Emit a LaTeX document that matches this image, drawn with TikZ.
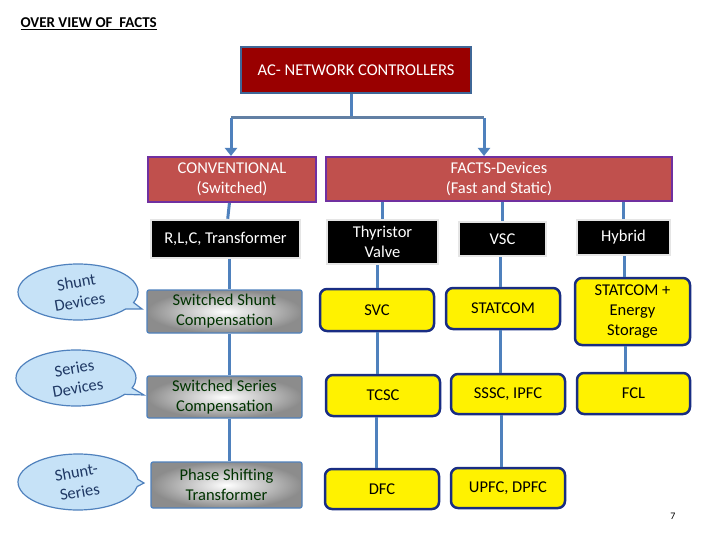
\documentclass[tikz,border=0pt]{standalone}
\usepackage{fontspec}
\setmainfont{Carlito}
\usetikzlibrary{arrows.meta,shapes.callouts}
\definecolor{lb}{HTML}{4F81BD}
\definecolor{dr}{HTML}{990000}
\definecolor{mr}{HTML}{C0504D}
\definecolor{pu}{HTML}{7030A0}
\definecolor{nv}{HTML}{1F3864}
\definecolor{cb}{HTML}{C6E2F7}
\begin{document}
\begin{tikzpicture}[x=1pt,y=-1pt,
  fs/.style={font=\fontsize{16.5}{20}\selectfont},
  red/.style={fill=mr,draw=pu,line width=2pt,text=white,fs,inner sep=1pt},
  blk/.style={fill=black,draw=black!10,line width=2.5pt,text=white,fs,inner sep=1pt},
  gry/.style={inner color=white,outer color=black!45,draw=lb,line width=1.2pt,rounded corners=2pt,fs,text=black!80!green,inner sep=1pt},
  yel/.style={fill=yellow,draw=nv!80!blue,line width=2.5pt,rounded corners=7pt,fs,inner sep=1pt},
  ln/.style={draw=lb,line width=3pt},
  cl/.style={ellipse callout,fill=cb,draw=lb,line width=1.2pt,minimum width=120pt,minimum height=56pt,inner sep=0pt},
  ct/.style={fs,text=nv,align=center,rotate=10,inner sep=0pt}]
\useasboundingbox (0,0) rectangle (720,540);
\node[anchor=west,font=\bfseries\fontsize{15}{17}\selectfont] (title) at (17,24) {\underline{OVER VIEW OF\ \ FACTS}};
\node[red,fill=dr,draw=lb!80!black,minimum width=230pt,minimum height=46pt] (ac) at (356,70) {AC- NETWORK CONTROLLERS};
\node[red,minimum width=168pt,minimum height=45pt,align=center] (conv) at (232,179.5) {CONVENTIONAL\\(Switched)};
\node[red,minimum width=346pt,minimum height=44pt,align=center] (facts) at (499,179) {FACTS-Devices\\(Fast and Static)};
\node[blk,minimum width=149pt,minimum height=38pt] (rlc) at (225.5,239) {R,L,C, Transformer};
\node[blk,minimum width=111pt,minimum height=44pt,align=center] (thy) at (382.5,242) {Thyristor\\Valve};
\node[blk,minimum width=87pt,minimum height=34pt] (vsc) at (502.5,239) {VSC};
\node[blk,minimum width=93pt,minimum height=35pt] (hyb) at (623.5,237.5) {Hybrid};
\node[gry,minimum width=155pt,minimum height=43pt,align=center] (ssh) at (224.5,311.5) {Switched Shunt\\Compensation};
\node[gry,minimum width=155pt,minimum height=42pt,align=center] (sse) at (224.5,397) {Switched Series\\Compensation};
\node[gry,minimum width=151pt,minimum height=46pt,align=center] (psh) at (226.5,485) {Phase Shifting\\Transformer};
\node[yel,minimum width=114pt,minimum height=42pt] (svc) at (377,310) {SVC};
\node[yel,minimum width=114pt,minimum height=41pt] (stat) at (503,308.5) {STATCOM};
\node[yel,minimum width=115pt,minimum height=67pt,align=center] (stae) at (632.5,311.5) {STATCOM +\\Energy\\Storage};
\node[yel,minimum width=114pt,minimum height=41pt] (tcsc) at (383,395.5) {TCSC};
\node[yel,minimum width=114pt,minimum height=40pt] (sssc) at (508,394) {SSSC, IPFC};
\node[yel,minimum width=113pt,minimum height=41pt] (fcl) at (633.5,393.5) {FCL};
\node[yel,minimum width=114pt,minimum height=40pt] (dfc) at (382,489) {DFC};
\node[yel,minimum width=114pt,minimum height=40pt] (upfc) at (508,488) {UPFC, DPFC};
\node[cl,callout absolute pointer={(142,309)}] (c1) at (78,292) {};
\node[ct] (t1) at (c1.center) {Shunt\\Devices};
\node[cl,callout absolute pointer={(144,395)}] (c2) at (76,378) {};
\node[ct] (t2) at (c2.center) {Series\\Devices};
\node[cl,callout absolute pointer={(144,483)}] (c3) at (78,482) {};
\node[ct] (t3) at (c3.center) {Shunt-\\Series};
\node[font=\fontsize{10}{12}\selectfont] (pg) at (673,516) {7};
\coordinate (j) at (351,118);
\coordinate (jl) at (231,118);
\coordinate (jr) at (484,118);
\draw[ln] (ac.south -| j) -- (j);
\draw[ln,draw=lb!60!gray] (jl) -- (jr);
\draw[ln,-{Triangle[length=8pt,width=12pt]}] (jl) -- (conv.north -| jl);
\draw[ln,-{Triangle[length=8pt,width=12pt]}] (jr) -- (facts.north -| jr);
\draw[ln] (conv) -- (rlc);
\draw[ln] (rlc.south -| 229,0) -- (ssh.north -| 229,0);
\draw[ln] (ssh.south -| 229,0) -- (sse.north -| 229,0);
\draw[ln] (sse.south -| 229,0) -- (psh.north -| 229,0);
\draw[ln] (facts.south -| thy) -- (thy);
\draw[ln] (facts.south -| vsc) -- (vsc);
\draw[ln] (facts.south -| hyb) -- (hyb);
\draw[ln] (thy.south -| 377,0) -- (svc.north -| 377,0);
\draw[ln] (svc.south -| 377,0) -- (tcsc.north -| 377,0);
\draw[ln] (tcsc.south -| 376,0) -- (dfc.north -| 376,0);
\draw[ln] (vsc.south -| 500,0) -- (stat.north -| 500,0);
\draw[ln] (stat.south -| 500,0) -- (sssc.north -| 500,0);
\draw[ln] (sssc.south -| 501,0) -- (upfc.north -| 501,0);
\draw[ln] (hyb.south -| 624,0) -- (stae.north -| 624,0);
\draw[ln] (stae.south -| 625,0) -- (fcl.north -| 625,0);
\end{tikzpicture}
\end{document}
